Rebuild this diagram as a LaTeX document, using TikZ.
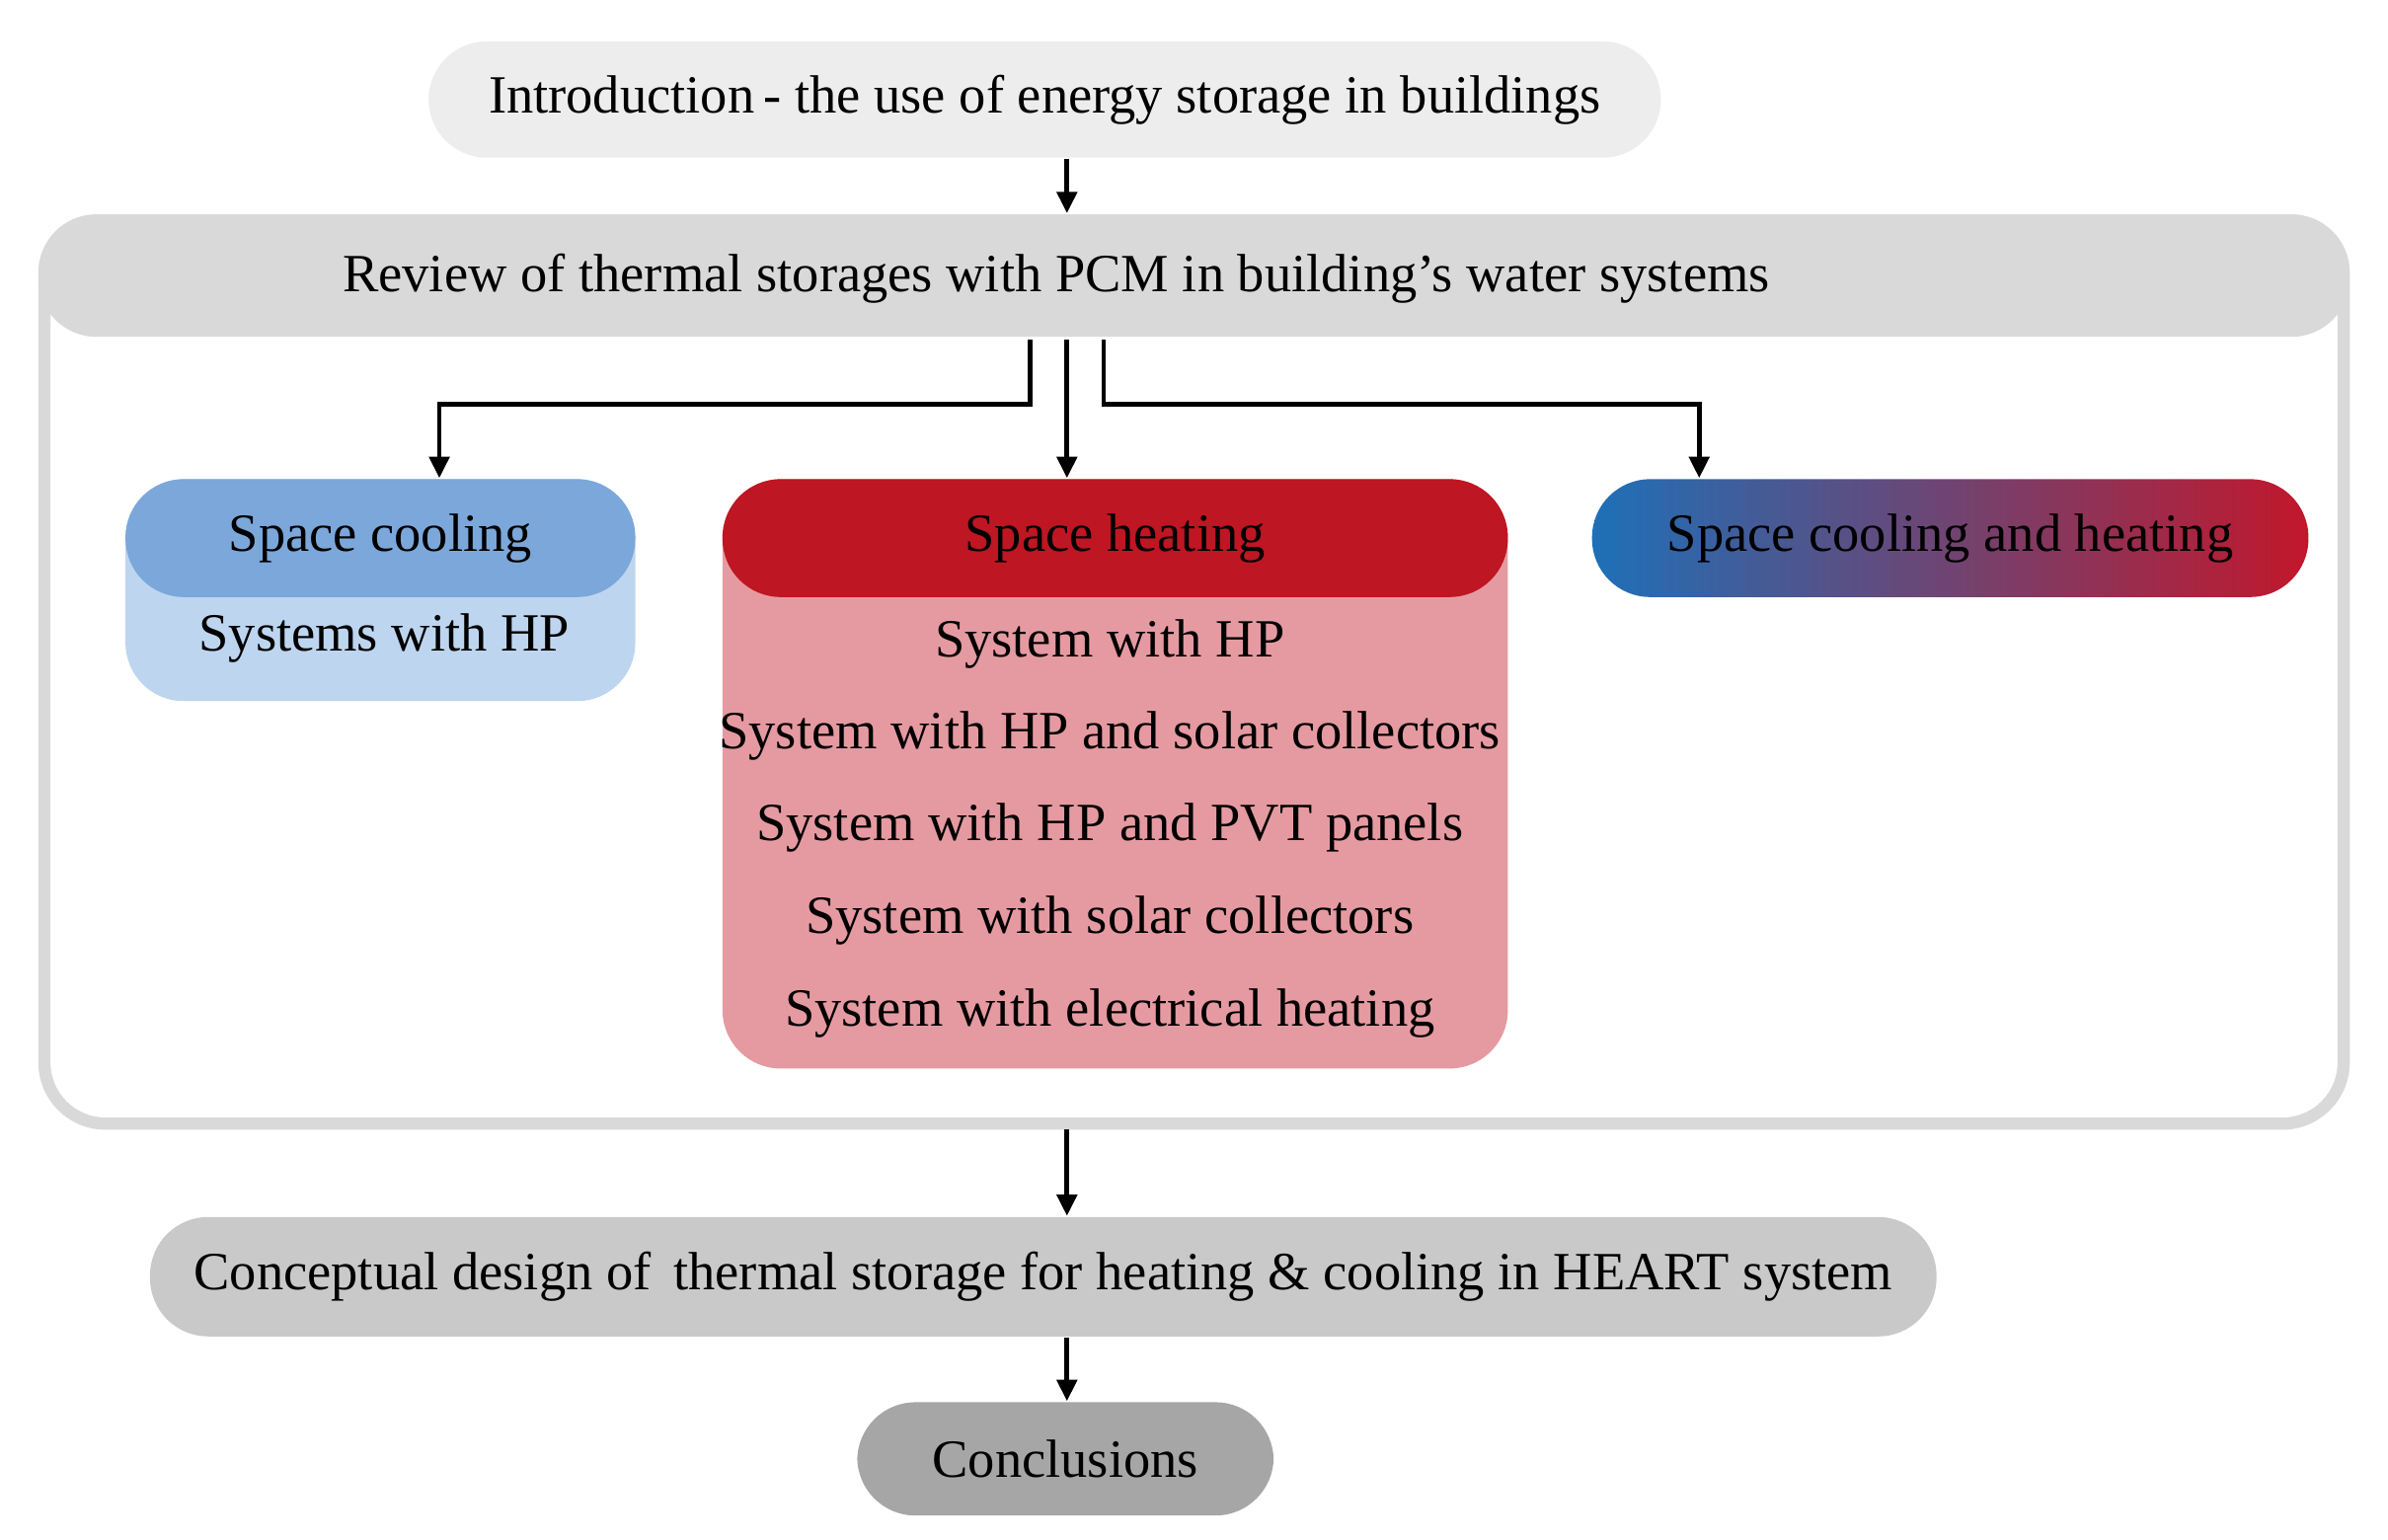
\documentclass[tikz,border=0pt]{standalone}
\usepackage{fontspec}
\setmainfont{Liberation Serif}
\usetikzlibrary{arrows.meta,calc}
\definecolor{introgray}{HTML}{EDEDED}
\definecolor{revgray}{HTML}{D9D9D9}
\definecolor{congray}{HTML}{C9C9C9}
\definecolor{clgray}{HTML}{A6A6A6}
\definecolor{cblue}{HTML}{7BA7DA}
\definecolor{cbluel}{HTML}{BED5EF}
\definecolor{hred}{HTML}{BE1622}
\definecolor{hredl}{HTML}{E59AA1}
\definecolor{gblue}{HTML}{1E70B8}
\definecolor{gred}{HTML}{C2172B}
\tikzset{
  box/.style={rounded corners=0.38cm, inner sep=0pt, font=\fontsize{10}{12}\selectfont, text=black},
  arr/.style={line width=0.9pt, -{Triangle[length=0.14cm,width=0.13cm]}},
  item/.style={font=\fontsize{10}{12}\selectfont, inner sep=0pt}
}
\begin{document}
\begin{tikzpicture}
\useasboundingbox (0,0) rectangle (15.6,-10.06);
% intro
\node[box, fill=introgray, minimum width=8.05cm, minimum height=0.76cm] (intro) at (6.825,-0.65) {Introduction\,- the use of energy storage in buildings};
% review frame
\draw[revgray, line width=0.08cm, rounded corners=0.4cm] (0.29,-1.44) rectangle (15.31,-7.34);
\node[box, fill=revgray, minimum width=15.1cm, minimum height=0.80cm] (rev) at (7.8,-1.80) {};
\node[item] (revt) at (6.9,-1.82) {Review of thermal storages with PCM in building’s water systems};
% space cooling
\node[box, fill=cbluel, minimum width=3.33cm, minimum height=1.45cm] (scb) at (2.485,-3.855) {};
\node[box, fill=cblue, minimum width=3.33cm, minimum height=0.77cm] (sc) at (2.485,-3.515) {Space cooling};
\node[item] (sc1) at (2.51,-4.17) {Systems with HP};
% space heating
\node[box, fill=hredl, minimum width=5.13cm, minimum height=3.85cm] (shb) at (7.285,-5.055) {};
\node[box, fill=hred, minimum width=5.13cm, minimum height=0.77cm] (sh) at (7.285,-3.515) {\color{black}Space heating};
\node[item] (sh1) at (7.25,-4.21) {System with HP};
\node[item] (sh2) at (7.25,-4.81) {System with HP and solar collectors};
\node[item] (sh3) at (7.25,-5.41) {System with HP and PVT panels};
\node[item] (sh4) at (7.25,-6.01) {System with solar collectors};
\node[item] (sh5) at (7.25,-6.62) {System with electrical heating};
% cooling and heating
\node[box, left color=gblue, right color=gred, minimum width=4.68cm, minimum height=0.77cm] (sch) at (12.74,-3.515) {Space cooling and heating};
% conceptual
\node[box, fill=congray, minimum width=11.67cm, minimum height=0.78cm] (con) at (6.815,-8.34) {Conceptual design of\, thermal storage for heating \& cooling in HEART system};
\node[box, fill=clgray, minimum width=2.72cm, minimum height=0.74cm] (cl) at (6.96,-9.53) {Conclusions};
% connectors
\coordinate (l0) at (6.73,-2.22);
\coordinate (c0) at (6.97,-2.22);
\coordinate (r0) at (7.21,-2.22);
\coordinate (f0) at (6.97,-7.38);
\draw[arr] (intro.south -| c0) -- (rev.north -| c0);
\draw[arr] (l0) |- (2.87,-2.64) -- (sc.north -| 2.87,0);
\draw[arr] (c0) -- (sh.north -| c0);
\draw[arr] (r0) |- (11.10,-2.64) -- (sch.north -| 11.10,0);
\draw[arr] (f0) -- (con.north -| f0);
\draw[arr] (con.south -| f0) -- (cl.north -| f0);
\end{tikzpicture}
\end{document}
